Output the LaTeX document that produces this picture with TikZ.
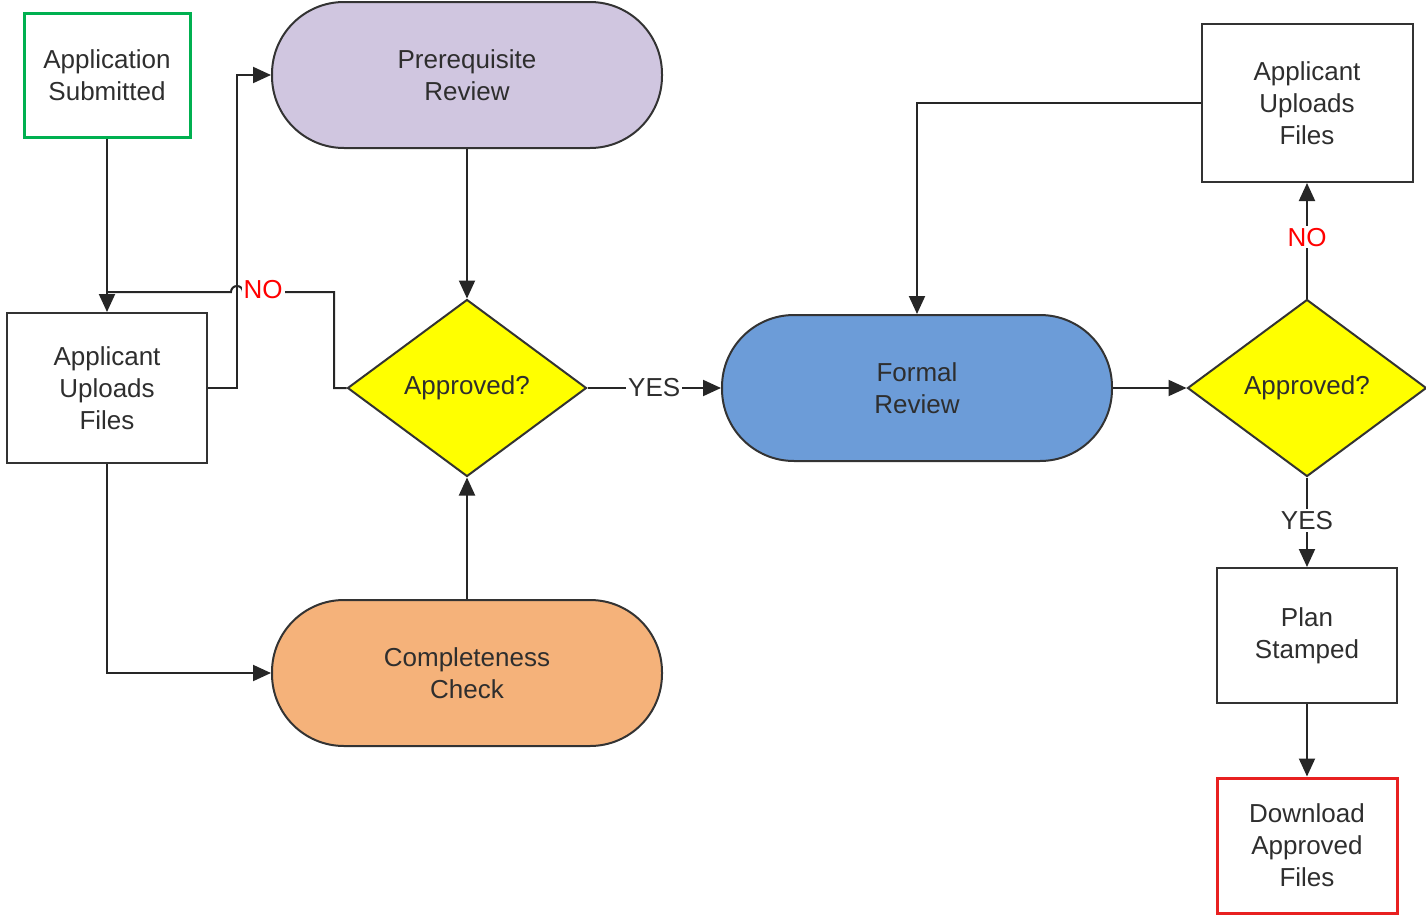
\documentclass[tikz,border=0pt]{standalone}
\usepackage{fontspec}
\setmainfont{Liberation Sans}
\usetikzlibrary{shapes.geometric,arrows.meta}
\definecolor{txt}{HTML}{2E2E2E}
\definecolor{lav}{HTML}{D0C6E0}
\definecolor{orng}{HTML}{F5B27A}
\definecolor{blu}{HTML}{6C9CD8}
\definecolor{grn}{HTML}{00B050}
\definecolor{rd}{HTML}{E82020}
\definecolor{ylw}{RGB}{255,255,0}
\tikzset{
  base/.style={draw=black!80, line width=1pt, align=center, text=txt, font=\fontsize{13}{16}\selectfont, inner sep=0pt},
  boxn/.style={base, rectangle, minimum width=#1},
  stad/.style={base, rectangle, rounded corners=36pt, minimum width=195pt, minimum height=73pt},
  dia/.style={base, diamond, fill=ylw, minimum width=119.5pt, minimum height=88.5pt},
  conn/.style={draw=black!85, line width=1pt},
  arr/.style={conn, -{Triangle[length=9pt,width=8pt]}},
  lbl/.style={fill=white, inner sep=1pt, text=txt, font=\fontsize{13}{16}\selectfont},
  nolbl/.style={fill=white, inner sep=1pt, text=red, font=\fontsize{13}{16}\selectfont}
}
\begin{document}
\begin{tikzpicture}[x=0.5pt,y=-0.5pt]
\useasboundingbox (0,0) rectangle (1426,916);
% nodes
\node[boxn=83pt, minimum height=62pt, draw=grn, line width=1.5pt] (sub) at (107,75) {Application\\Submitted};
\node[boxn=100pt, minimum height=75pt] (up1) at (107,388) {Applicant\\Uploads\\Files};
\node[stad, fill=lav] (pre) at (467,75) {Prerequisite\\Review};
\node[dia] (ap1) at (467,388) {Approved?};
\node[stad, fill=orng] (comp) at (467,673) {Completeness\\Check};
\node[stad, fill=blu] (form) at (917,388) {Formal\\Review};
\node[dia] (ap2) at (1307,388) {Approved?};
\node[boxn=105.5pt, minimum height=79pt] (up2) at (1307,103) {Applicant\\Uploads\\Files};
\node[boxn=90pt, minimum height=67.5pt] (plan) at (1307,635.5) {Plan\\Stamped};
\node[boxn=90pt, minimum height=67.5pt, draw=rd, line width=1.5pt] (dl) at (1307,845.5) {Download\\Approved\\Files};
% coordinates
\coordinate (j1) at (107,292);
\coordinate (nr) at (334,292);
% connectors
\draw[arr] (sub) -- (up1);
\draw[conn] (ap1.west) -- (334,388) -- (nr) -- (243,292) arc[start angle=0,end angle=180,radius=3pt] -- (j1);
\node[nolbl] (no1) at (263,290) {NO};
\draw[arr] (up1.east) -- (237,388) |- (pre.west);
\draw[arr] (up1.south) |- (comp.west);
\draw[arr] (comp.north) -- (ap1.south);
\draw[arr] (pre.south) -- (ap1.north);
\draw[arr] (ap1.east) -- node[lbl] (yes1) {YES} (form.west);
\draw[arr] (form.east) -- (ap2.west);
\draw[arr] (ap2.north) -- node[nolbl, pos=0.53] (no2) {NO} (up2.south);
\draw[arr] (up2.west) -| (form.north);
\draw[arr] (ap2.south) -- node[lbl, pos=0.48] (yes2) {YES} (plan.north);
\draw[arr] (plan.south) -- (dl.north);
\end{tikzpicture}
\end{document}
